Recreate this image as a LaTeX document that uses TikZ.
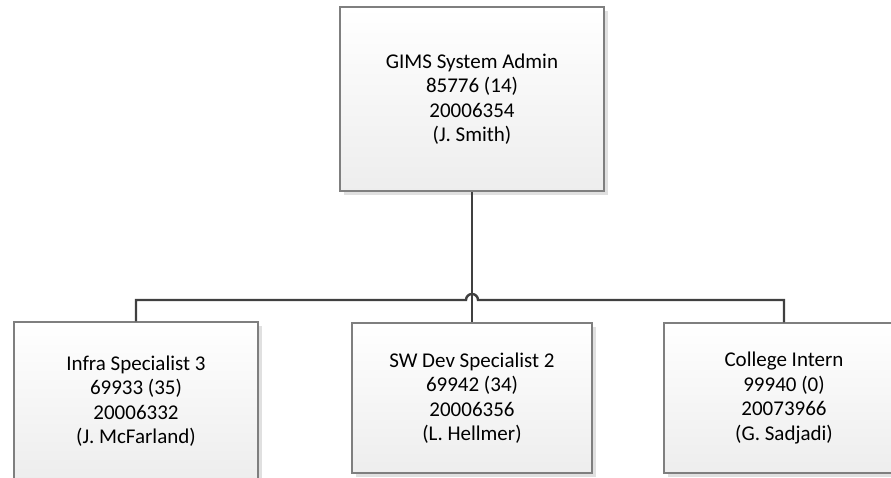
\documentclass[tikz,border=0pt]{standalone}
\usepackage{fontspec}
\setmainfont{Carlito}
\usetikzlibrary{shadows}
\definecolor{boxline}{HTML}{7F7F7F}
\definecolor{connline}{HTML}{404040}
\begin{document}
\begin{tikzpicture}[x=1pt,y=-1pt,
    posbox/.style={draw=boxline, line width=1.5pt, top color=white, bottom color=black!7,
        align=center, font=\fontsize{21}{24.5}\selectfont, inner sep=0pt,
        drop shadow={shadow xshift=4pt, shadow yshift=-4pt, fill=black!12, opacity=1}},
    conn/.style={draw=connline, line width=2.4pt}]
    \clip (0,0) rectangle (891,477);
    \fill[white] (0,0) rectangle (891,477);
    % Define the position boxes
    \node[posbox, minimum width=264pt, minimum height=184pt] (admin) at (472,99)
        {GIMS System Admin\\85776 (14)\\20006354\\(J. Smith)};
    \node[posbox, minimum width=244pt, minimum height=158pt] (infra) at (136,401)
        {Infra Specialist 3\\69933 (35)\\20006332\\(J. McFarland)};
    \node[posbox, minimum width=240pt, minimum height=150pt] (swdev) at (472,398)
        {SW Dev Specialist 2\\69942 (34)\\20006356\\(L. Hellmer)};
    \node[posbox, minimum width=240pt, minimum height=150pt] (intern) at (784,398)
        {College Intern\\99940 (0)\\20073966\\(G. Sadjadi)};
    % Add connectors
    \coordinate (bus) at (472,300);
    \draw[conn] (admin.south) -- (swdev.north);
    \draw[conn] (infra.north) -- (infra.north |- bus) -- ([xshift=-6pt]bus)
        arc (180:0:6pt) -- (intern.north |- bus) -- (intern.north);
\end{tikzpicture}
\end{document}
